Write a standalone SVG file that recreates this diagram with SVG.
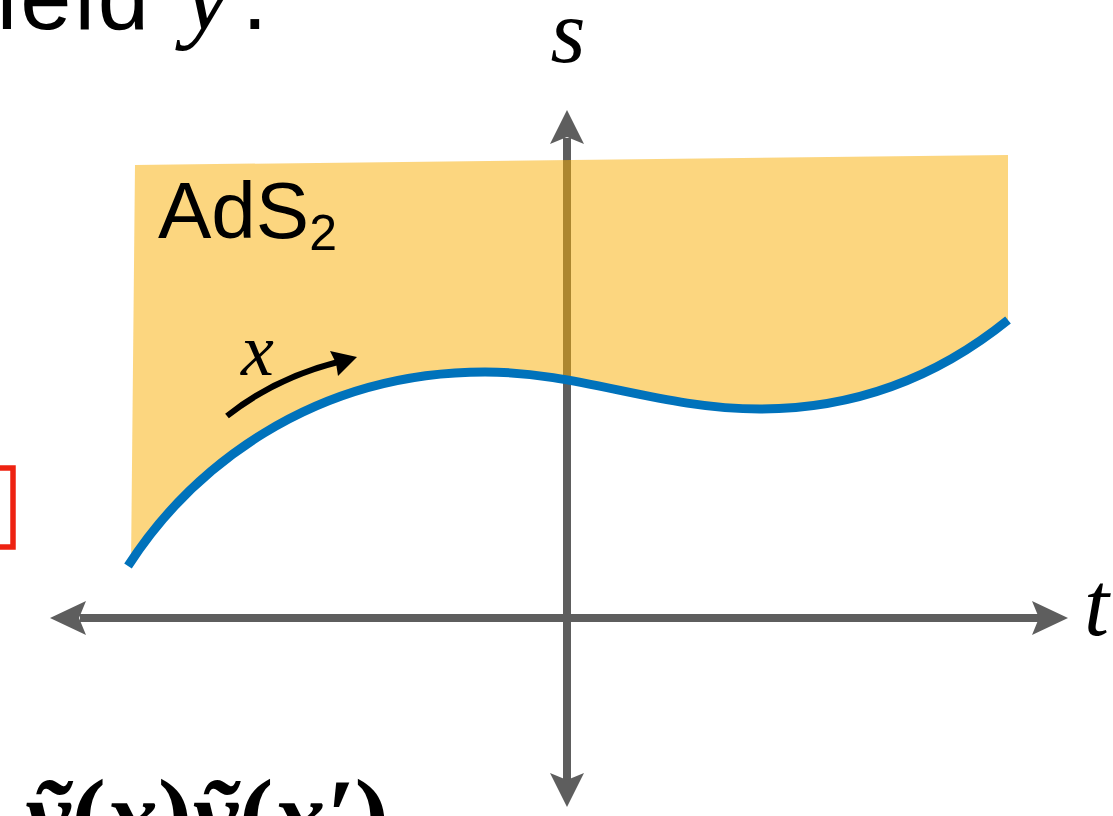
<svg xmlns="http://www.w3.org/2000/svg" width="1113" height="816" viewBox="0 0 1113 816">
<style>
.axis{stroke:#5e5e5e;stroke-width:8;fill:none}
.head{fill:#5e5e5e}
.math{font-family:"Liberation Serif","DejaVu Serif",serif;font-style:italic}
.sans{font-family:"Liberation Sans","DejaVu Sans",sans-serif}
</style>
<rect width="1113" height="816" fill="#ffffff"/>
<g id="top-text">
<text class="sans" x="152" y="29" font-size="92" text-anchor="end" letter-spacing="3" fill="#000">field</text>
<text class="math" x="184" y="29" font-size="104" fill="#000">y</text>
<text class="sans" x="242" y="29" font-size="92" fill="#000">.</text>
</g>
<g id="red-box">
<rect x="-200" y="468" width="213" height="79" fill="none" stroke="#ee2211" stroke-width="5.5"/>
</g>
<g id="axes">
<line class="axis" x1="80" y1="618" x2="1040" y2="618"/>
<line class="axis" x1="567" y1="138" x2="567" y2="780"/>
<polygon class="head" points="50,618 86,601 79,618 86,635"/>
<polygon class="head" points="1068,618 1032,601 1039,618 1032,635"/>
<polygon class="head" points="567,110 550,144 567,137 584,144"/>
<polygon class="head" points="567,807 550,773 567,780 584,773"/>
</g>
<g id="ads-region">
<path d="M135,165 L1008,155 L1008,320 C 940,375 860,409 760,409 C 660,409 580,372 485,372 C 310,372 190,470 128,566 L131,566 Z" fill="#F9AD00" fill-opacity="0.5"/>
<text class="sans" x="158" y="238" font-size="80" fill="#000">AdS<tspan font-size="50" dy="12">2</tspan></text>
</g>
<g id="boundary-curve">
<path d="M128,566 C 190,470 310,372 485,372 C 580,372 660,409 760,409 C 860,409 940,375 1008,320" fill="none" stroke="#0072BB" stroke-width="9"/>
</g>
<g id="x-arrow">
<path d="M227,416 Q 275,378 338,362" fill="none" stroke="#000" stroke-width="6"/>
<polygon points="357,357 330,351 336,363 338,376" fill="#000"/>
<text class="math" x="241" y="375" font-size="74" fill="#000">x</text>
</g>
<g id="labels">
<text class="math" x="568" y="62" font-size="90" text-anchor="middle" fill="#000">s</text>
<text class="math" x="1084" y="635" font-size="90" fill="#000">t</text>
</g>
<g id="bottom-text">
<text x="25" y="851" font-size="104" font-family="Liberation Serif, DejaVu Serif, serif" font-weight="bold" fill="#000"><tspan font-style="italic">ỹ</tspan>(<tspan font-style="italic">x</tspan>)<tspan font-style="italic">ỹ</tspan>(<tspan font-style="italic">x′</tspan>)</text>
</g>
</svg>
